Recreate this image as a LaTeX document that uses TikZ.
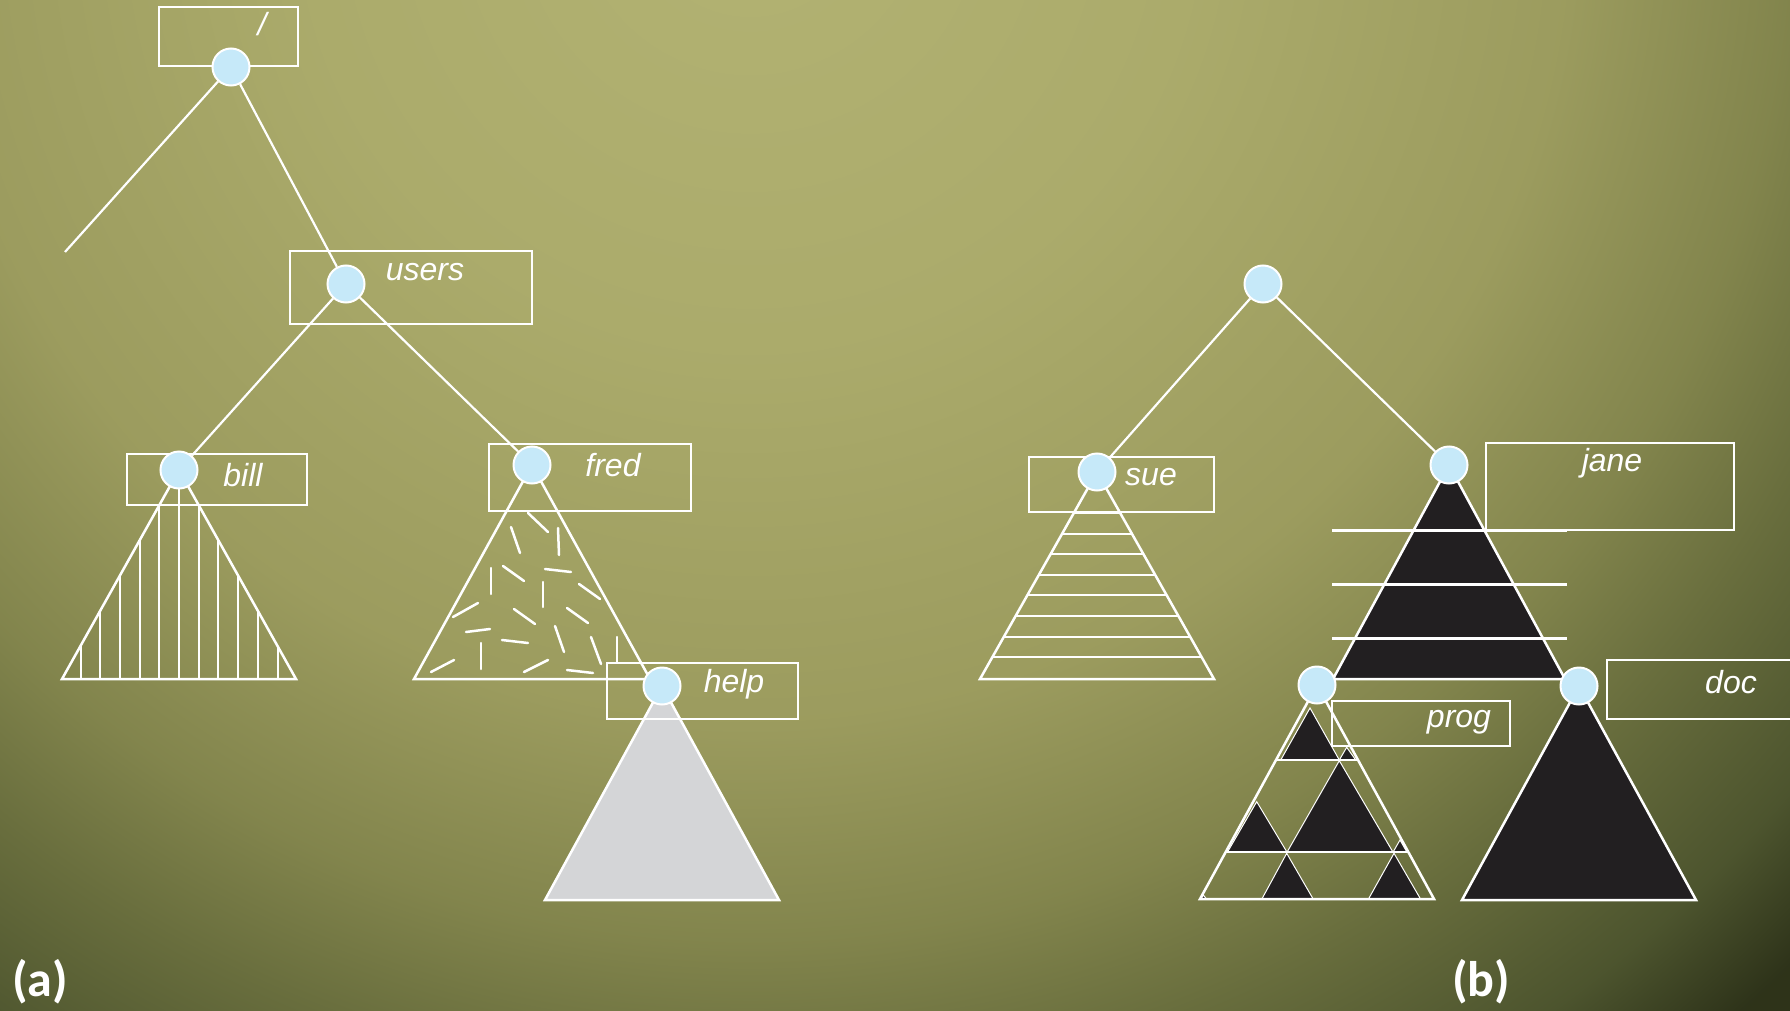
\documentclass[tikz,border=0pt]{standalone}
\usepackage{fontspec}
\newfontfamily\dirfont{Liberation Sans}
\newfontfamily\capfont{Carlito}
\usetikzlibrary{positioning, calc}

\definecolor{nodeblue}{RGB}{198,233,249}
\definecolor{helpgray}{RGB}{212,213,215}
\definecolor{fsblack}{RGB}{34,31,33}

\pgfdeclareradialshading{bgshade}{\pgfpoint{0bp}{0bp}}{%
  rgb(0bp)=(0.70,0.70,0.45);
  rgb(3.75bp)=(0.67,0.67,0.42);
  rgb(6.9bp)=(0.61,0.61,0.37);
  rgb(8.75bp)=(0.51,0.52,0.30);
  rgb(10bp)=(0.41,0.43,0.24);
  rgb(11.5bp)=(0.30,0.33,0.18);
  rgb(12.5bp)=(0.18,0.20,0.10);
  rgb(50bp)=(0.18,0.20,0.10)}

\pgfdeclarelayer{bg}
\pgfdeclarelayer{mid}
\pgfsetlayers{bg,mid,main}

\begin{document}
\begin{tikzpicture}[x=1pt, y=-1pt,
  dirnode/.style={circle, fill=nodeblue, draw=white, line width=2pt, minimum size=37pt, inner sep=0pt},
  dirbox/.style={draw=white, line width=1.5pt, inner sep=0pt},
  dirname/.style={text=white, font=\dirfont\itshape\fontsize{32}{38}\selectfont, inner sep=0pt},
  link/.style={draw=white, line width=2.2pt},
  subtree/.style={draw=white, line width=2.5pt, line join=miter},
  stripe/.style={draw=white, line width=2pt},
  flake/.style={draw=white, line width=2.5pt, line cap=round},
  bar/.style={draw=white, line width=3pt},
  piece/.style={fill=fsblack, draw=white, line width=1pt},
  partlabel/.style={text=white, font=\capfont\bfseries\fontsize{50}{60}\selectfont, inner sep=0pt}]

  % Background
  \useasboundingbox (0,0) rectangle (1790,1011);
  \begin{pgfonlayer}{bg}
    \clip (0,0) rectangle (1790,1011);
    \shade[shading=bgshade] (750,-100) circle (2976);
  \end{pgfonlayer}

  % ---------- (a) ----------
  % Boxes
  \node[dirbox, minimum width=139pt, minimum height=59pt] (bxroot) at (228.5,36.5) {};
  \node[dirbox, minimum width=242pt, minimum height=73pt] (bxusers) at (411,287.5) {};
  \node[dirbox, minimum width=180pt, minimum height=51pt] (bxbill) at (217,479.5) {};
  \node[dirbox, minimum width=202pt, minimum height=67pt] (bxfred) at (590,477.5) {};
  \node[dirbox, minimum width=191pt, minimum height=56pt] (bxhelp) at (702.5,691) {};

  % Directory nodes
  \node[dirnode] (root) at (231,67) {};
  \node[dirnode] (users) at (346,284) {};
  \node[dirnode] (bill) at (179,470) {};
  \node[dirnode] (fred) at (532,465) {};
  \node[dirnode] (help) at (662,686) {};
  \coordinate (cut) at (65,252);

  % Edges
  \draw[link] (root) -- (cut);
  \draw[link] (root) -- (users);
  \draw[link] (users) -- (bill);
  \draw[link] (users) -- (fred);

  % Names
  \node[dirname] (nmroot) at (262,24) {/};
  \node[dirname] (nmusers) at (425,272) {users};
  \node[dirname] (nmbill) at (243,475) {bill};
  \node[dirname] (nmfred) at (613,465) {fred};
  \node[dirname] (nmhelp) at (734,684) {help};

  \begin{pgfonlayer}{mid}
    % bill subtree, vertical stripes
    \begin{scope}
      \clip (bill.center) -- ++(-117,209) -- ++(234,0) -- cycle;
      \foreach \k in {-5,...,5}
        \draw[stripe] ($(bill.center)+(\k*19.7,0)$) -- ++(0,220);
    \end{scope}
    \draw[subtree] (bill.center) -- ++(-117,209) -- ++(234,0) -- cycle;

    % fred subtree, scattered dashes
    \foreach \xa/\ya/\xb/\yb in {528/513/548/532, 511/527/520/553, 558/528/559/555,
        491/568/491/594, 503/566/524/581, 545/569/571/572, 579/584/600/599,
        543/582/543/607, 453/617/478/603, 514/609/535/624, 567/608/588/623,
        466/632/490/629, 555/626/564/652, 502/640/528/643, 591/637/601/664,
        481/643/481/669, 617/637/617/662, 431/672/454/660, 524/672/548/660,
        567/670/593/673}
      \draw[flake] (\xa,\ya) -- (\xb,\yb);
    \draw[subtree] (fred.center) -- ++(-118,214) -- ++(236,0) -- cycle;

    % help subtree, grey
    \draw[subtree, fill=helpgray] (help.center) -- ++(-117,214) -- ++(234,0) -- cycle;
  \end{pgfonlayer}

  % ---------- (b) ----------
  % Boxes
  \node[dirbox, minimum width=185pt, minimum height=55pt] (bxsue) at (1121.5,484.5) {};
  \node[dirbox, minimum width=248pt, minimum height=87pt] (bxjane) at (1610,486.5) {};
  \node[dirbox, minimum width=178pt, minimum height=45pt] (bxprog) at (1421,723.5) {};
  \node[dirbox, minimum width=193pt, minimum height=59pt] (bxdoc) at (1703.5,689.5) {};

  % Directory nodes
  \node[dirnode] (top) at (1263,284) {};
  \node[dirnode] (sue) at (1097,472) {};
  \node[dirnode] (jane) at (1449,465) {};
  \node[dirnode] (prog) at (1317,685) {};
  \node[dirnode] (doc) at (1579,686) {};

  % Edges
  \draw[link] (top) -- (sue);
  \draw[link] (top) -- (jane);

  % Names
  \node[dirname] (nmsue) at (1151,477) {sue};
  \node[dirname] (nmjane) at (1612,463) {jane};
  \node[dirname] (nmprog) at (1459,722) {prog};
  \node[dirname] (nmdoc) at (1731,682) {doc};

  \begin{pgfonlayer}{mid}
    % sue subtree, horizontal stripes
    \begin{scope}
      \clip (sue.center) -- ++(-117,207) -- ++(234,0) -- cycle;
      \foreach \k in {0,...,7}
        \draw[stripe] (960,513+\k*20.6) -- ++(280,0);
    \end{scope}
    \draw[subtree] (sue.center) -- ++(-117,207) -- ++(234,0) -- cycle;

    % jane subtree, black with bars
    \draw[subtree, fill=fsblack] (jane.center) -- ++(-116,214) -- ++(232,0) -- cycle;
    \foreach \yy in {530,584,638}
      \draw[bar] (1332,\yy) -- (1567,\yy);

    % prog subtree, black pieces
    \fill[piece] (1310,708) -- (1280.7,760) -- (1339.3,760) -- cycle;
    \fill[piece] (1346.7,747.3) -- (1339.3,760) -- (1355.7,760) -- cycle;
    \fill[piece] (1339.3,760.7) -- (1287.3,851.7) -- (1392.7,851.7) -- cycle;
    \fill[piece] (1256.7,801.7) -- (1227.7,851.7) -- (1286.7,851.7) -- cycle;
    \fill[piece] (1400,840) -- (1393.3,851.7) -- (1406.7,851.7) -- cycle;
    \fill[piece] (1286.7,853.3) -- (1261.7,899.3) -- (1313.3,899.3) -- cycle;
    \fill[piece] (1394,853.3) -- (1368.3,899.3) -- (1420.7,899.3) -- cycle;
    \fill[piece] (1203.3,895) -- (1200.7,899.3) -- (1206.7,899.3) -- cycle;
    \begin{scope}
      \clip (prog.center) -- ++(-117,214) -- ++(234,0) -- cycle;
      \foreach \yy in {760,852}
        \draw[stripe] (1190,\yy) -- (1450,\yy);
    \end{scope}
    \draw[subtree] (prog.center) -- ++(-117,214) -- ++(234,0) -- cycle;

    % doc subtree, black
    \draw[subtree, fill=fsblack] (doc.center) -- ++(-117,214) -- ++(234,0) -- cycle;
  \end{pgfonlayer}

  % Part labels
  \node[partlabel] (capa) at (40,982) {(a)};
  \node[partlabel] (capb) at (1481,982) {(b)};
\end{tikzpicture}
\end{document}
